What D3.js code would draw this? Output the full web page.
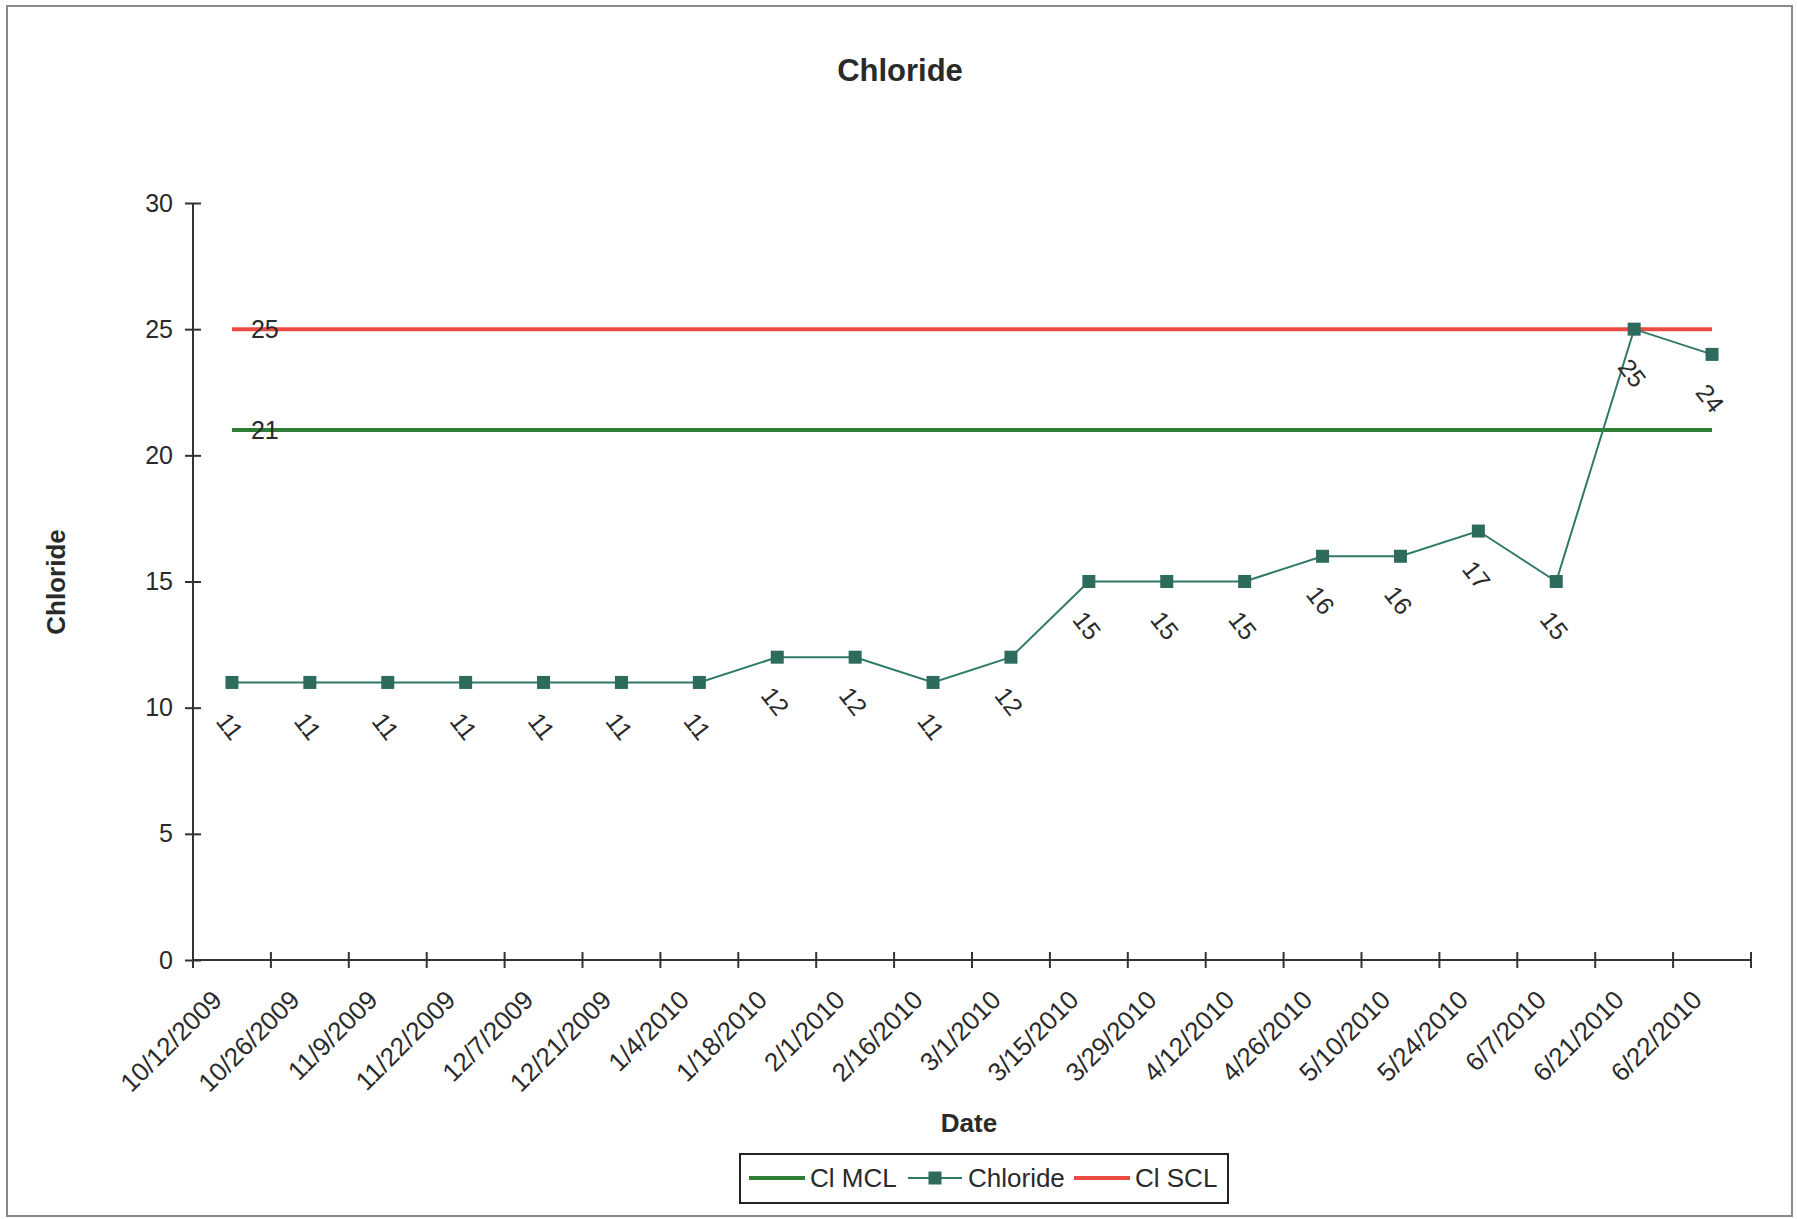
<!DOCTYPE html>
<html>
<head>
<meta charset="utf-8">
<script src="https://cdn.jsdelivr.net/npm/d3@7"></script>
<style>
  html, body { margin: 0; padding: 0; background: #ffffff; }
  svg { display: block; }
  text { font-family: "Liberation Sans", Arial, sans-serif; fill: #2a2a2a; }
</style>
</head>
<body>
<script>
// ---- data ----
const dates = ["10/12/2009","10/26/2009","11/9/2009","11/22/2009","12/7/2009","12/21/2009",
  "1/4/2010","1/18/2010","2/1/2010","2/16/2010","3/1/2010","3/15/2010","3/29/2010",
  "4/12/2010","4/26/2010","5/10/2010","5/24/2010","6/7/2010","6/21/2010","6/22/2010"];
const chloride = [11,11,11,11,11,11,11,12,12,11,12,15,15,15,16,16,17,15,25,24];
const clMCL = [21,21,21,21,21,21,21,21,21,21,21,21,21,21,21,21,21,21,21,21];
const clSCL = [25,25,25,25,25,25,25,25,25,25,25,25,25,25,25,25,25,25,25,25];
const yTicks = [0,5,10,15,20,25,30];
const seriesNames = ["Cl MCL","Chloride","Cl SCL"];

// ---- layout ----
const W = 1797, H = 1219;
const L = 193, R = 1751, T = 203, B = 960;
const cMCL = "#2f7d34", cSCL = "#ec4b43", cChl = "#2f7a66", cMark = "#2d6b5c";

const svg = d3.select("body").append("svg").attr("width", W).attr("height", H);
svg.append("rect").attr("x", 0).attr("y", 0).attr("width", W).attr("height", H).attr("fill", "#fff");
svg.append("rect").attr("x", 7).attr("y", 6).attr("width", 1785).attr("height", 1210)
  .attr("fill", "none").attr("stroke", "#8a8a8a").attr("stroke-width", 2);

const x = d3.scaleBand().domain(dates).range([L, R]);
const y = d3.scaleLinear().domain([0, 30]).range([B, T]);
const cx = d => x(d) + x.bandwidth() / 2;

// title
svg.append("text").attr("x", 900).attr("y", 81).attr("text-anchor", "middle")
  .attr("font-size", 31).attr("font-weight", "bold").text("Chloride");

// y axis
const yAxis = svg.append("g").attr("transform", `translate(${L},0)`)
  .call(d3.axisLeft(y).tickValues(yTicks).tickSize(8).tickPadding(12));
yAxis.select(".domain").attr("stroke", "#333").attr("stroke-width", 2).attr("d", `M0,${T}V${B}`);
yAxis.selectAll(".tick line").attr("x1", -8).attr("x2", 8).attr("stroke", "#333").attr("stroke-width", 2);
yAxis.selectAll(".tick text").attr("font-size", 25).attr("fill", "#2a2a2a")
  .attr("font-family", "Liberation Sans, Arial, sans-serif");

// x axis
const xAxis = svg.append("g").attr("transform", `translate(0,${B})`)
  .call(d3.axisBottom(x).tickSize(0).tickFormat(""));
xAxis.select(".domain").attr("stroke", "#333").attr("stroke-width", 2).attr("d", `M${L},0H${R}`);
const bounds = dates.map(d => x(d)).concat([x(dates[dates.length - 1]) + x.bandwidth()]);
svg.append("g").selectAll("line").data(bounds).join("line")
  .attr("x1", d => d).attr("x2", d => d).attr("y1", B - 8).attr("y2", B + 8)
  .attr("stroke", "#333").attr("stroke-width", 2);
svg.append("g").selectAll("text").data(dates).join("text")
  .attr("transform", d => `translate(${cx(d) - 15},${B + 35}) rotate(-45)`)
  .attr("text-anchor", "end").attr("dy", "0.35em").attr("font-size", 26).text(d => d);

// axis titles
svg.append("text").attr("x", 969).attr("y", 1132).attr("text-anchor", "middle")
  .attr("font-size", 26).attr("font-weight", "bold").text("Date");
svg.append("text").attr("transform", `translate(65,582) rotate(-90)`).attr("text-anchor", "middle")
  .attr("font-size", 26).attr("font-weight", "bold").text("Chloride");

// lines
const line = d3.line().x((v, i) => cx(dates[i])).y(v => y(v));
svg.append("path").datum(clMCL).attr("d", line).attr("fill", "none").attr("stroke", cMCL).attr("stroke-width", 4);
svg.append("path").datum(clSCL).attr("d", line).attr("fill", "none").attr("stroke", cSCL).attr("stroke-width", 4);
svg.append("path").datum(chloride).attr("d", line).attr("fill", "none").attr("stroke", cChl).attr("stroke-width", 2);

// markers
svg.append("g").selectAll("rect").data(chloride).join("rect")
  .attr("x", (v, i) => cx(dates[i]) - 6.5).attr("y", v => y(v) - 6.5)
  .attr("width", 13).attr("height", 13).attr("fill", cMark);

// data labels for reference lines (first point)
svg.append("text").attr("x", cx(dates[0]) + 19).attr("y", y(clSCL[0])).attr("dy", "0.35em")
  .attr("font-size", 25).text(clSCL[0]);
svg.append("text").attr("x", cx(dates[0]) + 19).attr("y", y(clMCL[0])).attr("dy", "0.35em")
  .attr("font-size", 25).text(clMCL[0]);

// data labels for chloride
svg.append("g").selectAll("text").data(chloride).join("text")
  .attr("transform", (v, i) => `translate(${cx(dates[i]) - 2},${y(v) + 44}) rotate(52)`)
  .attr("text-anchor", "middle").attr("dy", "0.35em").attr("font-size", 25).text(v => v);

// legend
const lg = svg.append("g");
lg.append("rect").attr("x", 740).attr("y", 1154).attr("width", 488).attr("height", 49)
  .attr("fill", "#fff").attr("stroke", "#222").attr("stroke-width", 2);
const ly = 1178;
const items = [
  { name: seriesNames[0], color: cMCL, w: 4, x0: 749, x1: 805, tx: 810, marker: false },
  { name: seriesNames[1], color: cChl, w: 2, x0: 908, x1: 962, tx: 968, marker: true },
  { name: seriesNames[2], color: cSCL, w: 4, x0: 1074, x1: 1130, tx: 1135, marker: false }
];
items.forEach(it => {
  lg.append("line").attr("x1", it.x0).attr("x2", it.x1).attr("y1", ly).attr("y2", ly)
    .attr("stroke", it.color).attr("stroke-width", it.w);
  if (it.marker) lg.append("rect").attr("x", (it.x0 + it.x1) / 2 - 6.5).attr("y", ly - 6.5)
    .attr("width", 13).attr("height", 13).attr("fill", cMark);
  lg.append("text").attr("x", it.tx).attr("y", ly).attr("dy", "0.35em").attr("font-size", 26).text(it.name);
});
</script>
</body>
</html>
